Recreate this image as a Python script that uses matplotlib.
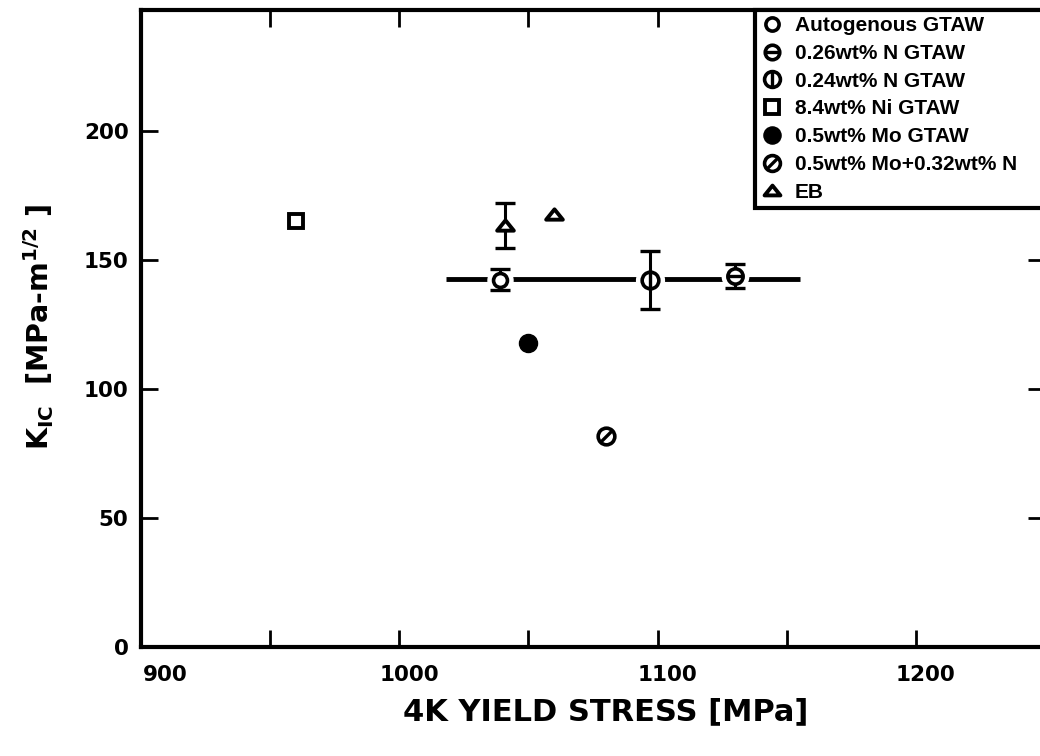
import matplotlib
matplotlib.use("Agg")
import matplotlib.pyplot as plt
from matplotlib.markers import MarkerStyle
from matplotlib.path import Path
from matplotlib.transforms import Affine2D, ScaledTranslation
from matplotlib.legend_handler import HandlerTuple

plt.rcParams["mathtext.fontset"] = "dejavusans"

# ---------------- data ----------------
series_labels = ["Autogenous GTAW", "0.26wt% N GTAW", "0.24wt% N GTAW",
                 "8.4wt% Ni GTAW", "0.5wt% Mo GTAW", "0.5wt% Mo+0.32wt% N", "EB"]

auto_x, auto_y, auto_err = [1039], [142.5], [4.0]
n26_x, n26_y, n26_err = [1130], [143.8], [4.7]
n24_x, n24_y, n24_err = [1097], [142.3], [11.3]
ni_x, ni_y = [960], [165.0]
mo_x, mo_y = [1050], [118.0]
mon_x, mon_y = [1080], [82.0]
eb_x, eb_y = [1041, 1060], [163.5, 168.0]
eb_err_x, eb_err_y, eb_err = [1041], [163.5], [8.8]

range_x = [1018, 1155]        # horizontal yield-stress range bar
range_y = [142.8, 142.8]

x_ticks = [900, 950, 1000, 1050, 1100, 1150, 1200, 1250]
x_ticklabels = ["900", "", "1000", "", "1100", "", "1200", ""]
y_ticks = [0, 50, 100, 150, 200]
y_ticklabels = ["0", "50", "100", "150", "200"]

# ---------------- figure ----------------
W, H = 1040, 756
fig = plt.figure(figsize=(W / 100, H / 100), dpi=100)
ax = fig.add_axes([141 / W, (H - 647) / H, (1045 - 141) / W, (647 - 10) / H])
ax.set_xlim(900, 1250)
ax.set_ylim(0, 247)

for s in ax.spines.values():
    s.set_linewidth(3.0)

ax.set_xticks(x_ticks)
ax.set_xticklabels(x_ticklabels)
ax.set_yticks(y_ticks)
ax.set_yticklabels(y_ticklabels)
ax.tick_params(direction="in", length=12, width=2.0, top=True, right=True,
               labelsize=15.5, pad=13)
ax.tick_params(axis="y", pad=9)
for lab in ax.get_xticklabels() + ax.get_yticklabels():
    lab.set_fontfamily("DejaVu Sans")
    lab.set_fontweight("bold")
# the scanned labels sit a little to the right of their ticks
for lab in ax.get_xticklabels():
    dx = 24 if lab.get_text() == "900" else 10
    lab.set_transform(lab.get_transform() + ScaledTranslation(dx / 100, 0, fig.dpi_scale_trans))

ax.set_xlabel("4K YIELD STRESS [MPa]", fontsize=22, fontweight="bold",
              family="DejaVu Sans")
ax.xaxis.set_label_coords((606 - 141) / 904, (647 - 697) / 637)
ax.set_ylabel(r"K$_{\mathbf{IC}}$  [MPa-m$^{\mathbf{1/2}}$ ]", fontsize=20.5,
              fontweight="bold", family="DejaVu Sans")
ax.yaxis.set_label_coords((56 - 141) / 904, (647 - 327) / 637)

# horizontal range bar
ax.plot(range_x, range_y, color="black", lw=3.5, solid_capstyle="butt", zorder=2)

# white halos around markers sitting on the bar
for xs, ys, ms in [(auto_x, auto_y, 10), (n24_x, n24_y, 12), (n26_x, n26_y, 11)]:
    ax.plot(xs, ys, ls="none", marker="o", ms=ms + 8, mfc="white", mec="white", zorder=3)

# error bars
eb_kw = dict(fmt="none", ecolor="black", elinewidth=2.2, capsize=7, capthick=2.4, zorder=3.5)
ax.errorbar(auto_x, auto_y, yerr=auto_err, **eb_kw)
ax.errorbar(n26_x, n26_y, yerr=n26_err, **eb_kw)
ax.errorbar(n24_x, n24_y, yerr=n24_err, **eb_kw)
ax.errorbar(eb_err_x, eb_err_y, yerr=eb_err, **eb_kw)

mk = dict(ls="none", mec="black", zorder=4)
slash = MarkerStyle("|", transform=Affine2D().rotate_deg(-45))
tri_path = Path([(0, 0.62), (-1, -0.62), (1, -0.62), (0, 0.62)],
                [Path.MOVETO, Path.LINETO, Path.LINETO, Path.CLOSEPOLY])

h_auto, = ax.plot(auto_x, auto_y, marker="o", ms=10, mfc="white", mew=2.6, **mk)

h26a, = ax.plot(n26_x, n26_y, marker="o", ms=11, mfc="white", mew=2.6, **mk)
h26b, = ax.plot(n26_x, n26_y, marker="_", ms=11, mew=2.4, ls="none", color="black", zorder=4.5)

h24a, = ax.plot(n24_x, n24_y, marker="o", ms=12, mfc="white", mew=2.6, **mk)
h24b, = ax.plot(n24_x, n24_y, marker="|", ms=12, mew=2.4, ls="none", color="black", zorder=4.5)

h_ni, = ax.plot(ni_x, ni_y, marker="s", ms=10, mfc="white", mew=2.8, **mk)

h_mo, = ax.plot(mo_x, mo_y, marker="o", ms=13, mfc="black", mew=1, **mk)

hmna, = ax.plot(mon_x, mon_y, marker="o", ms=12, mfc="white", mew=2.6, **mk)
hmnb, = ax.plot(mon_x, mon_y, marker=slash, ms=12, mew=2.4, ls="none", color="black", zorder=4.5)

h_eb, = ax.plot(eb_x, eb_y, marker=tri_path, ms=12, mfc="white", mew=2.8, **mk)

handles = [h_auto, (h26a, h26b), (h24a, h24b), h_ni, h_mo, (hmna, hmnb), h_eb]
leg_x0, leg_x1, leg_top = 755 / W, 1060 / W, 1 - 10 / H
leg = fig.legend(handles, series_labels, loc="upper left", mode="expand",
                 bbox_to_anchor=(leg_x0, leg_top - 0.3, leg_x1 - leg_x0, 0.3),
                 bbox_transform=fig.transFigure,
                 handler_map={tuple: HandlerTuple(ndivide=1)},
                 prop={"family": "Liberation Sans", "weight": "bold", "size": 15},
                 frameon=True, fancybox=False, shadow=False, framealpha=1.0,
                 borderaxespad=0, borderpad=0.3, labelspacing=0.42, handlelength=1.0,
                 handletextpad=0.6, markerscale=0.95)
leg.get_frame().set_edgecolor("black")
leg.get_frame().set_facecolor("white")
leg.get_frame().set_linewidth(3.0)
leg.set_zorder(10)

fig.savefig("out.png", dpi=100)
